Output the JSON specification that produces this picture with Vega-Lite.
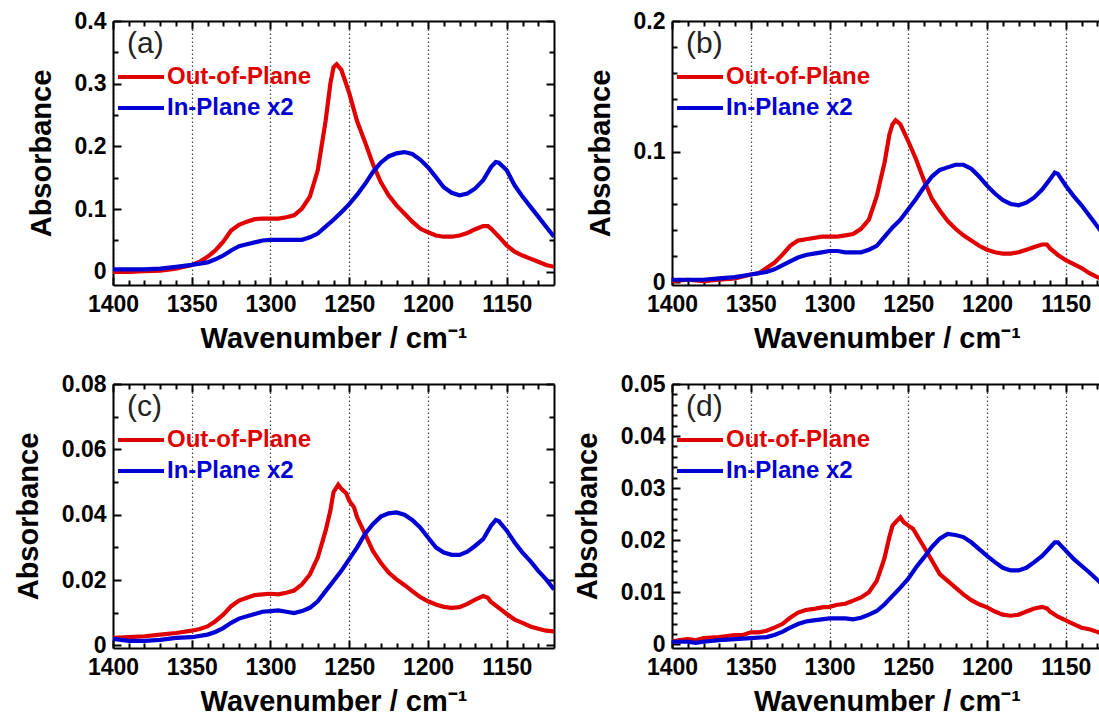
{
  "$schema": "https://vega.github.io/schema/vega-lite/v6.json",
  "padding": {"left": 14, "top": 10, "right": 0, "bottom": 0},
  "data": {"values": [
    {"p":"a","s":"Out-of-Plane","w":1400,"A":0.0},{"p":"a","s":"Out-of-Plane","w":1390,"A":0.0},{"p":"a","s":"Out-of-Plane","w":1380,"A":0.001},{"p":"a","s":"Out-of-Plane","w":1370,"A":0.002},{"p":"a","s":"Out-of-Plane","w":1360,"A":0.005},{"p":"a","s":"Out-of-Plane","w":1350,"A":0.011},{"p":"a","s":"Out-of-Plane","w":1345,"A":0.016},{"p":"a","s":"Out-of-Plane","w":1340,"A":0.024},{"p":"a","s":"Out-of-Plane","w":1335,"A":0.034},{"p":"a","s":"Out-of-Plane","w":1330,"A":0.048},{"p":"a","s":"Out-of-Plane","w":1325,"A":0.066},{"p":"a","s":"Out-of-Plane","w":1320,"A":0.075},{"p":"a","s":"Out-of-Plane","w":1315,"A":0.080},{"p":"a","s":"Out-of-Plane","w":1310,"A":0.084},{"p":"a","s":"Out-of-Plane","w":1305,"A":0.085},{"p":"a","s":"Out-of-Plane","w":1300,"A":0.085},{"p":"a","s":"Out-of-Plane","w":1295,"A":0.085},{"p":"a","s":"Out-of-Plane","w":1290,"A":0.087},{"p":"a","s":"Out-of-Plane","w":1285,"A":0.090},{"p":"a","s":"Out-of-Plane","w":1280,"A":0.101},{"p":"a","s":"Out-of-Plane","w":1275,"A":0.120},{"p":"a","s":"Out-of-Plane","w":1270,"A":0.162},{"p":"a","s":"Out-of-Plane","w":1265,"A":0.241},{"p":"a","s":"Out-of-Plane","w":1262,"A":0.300},{"p":"a","s":"Out-of-Plane","w":1260,"A":0.326},{"p":"a","s":"Out-of-Plane","w":1258,"A":0.331},{"p":"a","s":"Out-of-Plane","w":1255,"A":0.322},{"p":"a","s":"Out-of-Plane","w":1250,"A":0.285},{"p":"a","s":"Out-of-Plane","w":1245,"A":0.240},{"p":"a","s":"Out-of-Plane","w":1240,"A":0.207},{"p":"a","s":"Out-of-Plane","w":1235,"A":0.172},{"p":"a","s":"Out-of-Plane","w":1230,"A":0.143},{"p":"a","s":"Out-of-Plane","w":1225,"A":0.122},{"p":"a","s":"Out-of-Plane","w":1220,"A":0.106},{"p":"a","s":"Out-of-Plane","w":1215,"A":0.093},{"p":"a","s":"Out-of-Plane","w":1210,"A":0.080},{"p":"a","s":"Out-of-Plane","w":1205,"A":0.069},{"p":"a","s":"Out-of-Plane","w":1200,"A":0.063},{"p":"a","s":"Out-of-Plane","w":1195,"A":0.058},{"p":"a","s":"Out-of-Plane","w":1190,"A":0.056},{"p":"a","s":"Out-of-Plane","w":1185,"A":0.056},{"p":"a","s":"Out-of-Plane","w":1180,"A":0.058},{"p":"a","s":"Out-of-Plane","w":1175,"A":0.062},{"p":"a","s":"Out-of-Plane","w":1170,"A":0.068},{"p":"a","s":"Out-of-Plane","w":1165,"A":0.073},{"p":"a","s":"Out-of-Plane","w":1162,"A":0.073},{"p":"a","s":"Out-of-Plane","w":1160,"A":0.069},{"p":"a","s":"Out-of-Plane","w":1155,"A":0.056},{"p":"a","s":"Out-of-Plane","w":1150,"A":0.042},{"p":"a","s":"Out-of-Plane","w":1145,"A":0.032},{"p":"a","s":"Out-of-Plane","w":1140,"A":0.026},{"p":"a","s":"Out-of-Plane","w":1135,"A":0.021},{"p":"a","s":"Out-of-Plane","w":1130,"A":0.016},{"p":"a","s":"Out-of-Plane","w":1125,"A":0.011},{"p":"a","s":"Out-of-Plane","w":1120,"A":0.008},
    {"p":"a","s":"In-Plane x2","w":1400,"A":0.004},{"p":"a","s":"In-Plane x2","w":1390,"A":0.004},{"p":"a","s":"In-Plane x2","w":1380,"A":0.004},{"p":"a","s":"In-Plane x2","w":1370,"A":0.005},{"p":"a","s":"In-Plane x2","w":1360,"A":0.008},{"p":"a","s":"In-Plane x2","w":1350,"A":0.011},{"p":"a","s":"In-Plane x2","w":1340,"A":0.015},{"p":"a","s":"In-Plane x2","w":1335,"A":0.020},{"p":"a","s":"In-Plane x2","w":1330,"A":0.026},{"p":"a","s":"In-Plane x2","w":1325,"A":0.034},{"p":"a","s":"In-Plane x2","w":1320,"A":0.041},{"p":"a","s":"In-Plane x2","w":1315,"A":0.044},{"p":"a","s":"In-Plane x2","w":1310,"A":0.047},{"p":"a","s":"In-Plane x2","w":1305,"A":0.050},{"p":"a","s":"In-Plane x2","w":1300,"A":0.051},{"p":"a","s":"In-Plane x2","w":1295,"A":0.051},{"p":"a","s":"In-Plane x2","w":1290,"A":0.051},{"p":"a","s":"In-Plane x2","w":1285,"A":0.051},{"p":"a","s":"In-Plane x2","w":1280,"A":0.051},{"p":"a","s":"In-Plane x2","w":1275,"A":0.055},{"p":"a","s":"In-Plane x2","w":1270,"A":0.061},{"p":"a","s":"In-Plane x2","w":1265,"A":0.072},{"p":"a","s":"In-Plane x2","w":1260,"A":0.083},{"p":"a","s":"In-Plane x2","w":1255,"A":0.095},{"p":"a","s":"In-Plane x2","w":1250,"A":0.108},{"p":"a","s":"In-Plane x2","w":1245,"A":0.123},{"p":"a","s":"In-Plane x2","w":1240,"A":0.140},{"p":"a","s":"In-Plane x2","w":1235,"A":0.159},{"p":"a","s":"In-Plane x2","w":1230,"A":0.174},{"p":"a","s":"In-Plane x2","w":1225,"A":0.184},{"p":"a","s":"In-Plane x2","w":1220,"A":0.189},{"p":"a","s":"In-Plane x2","w":1215,"A":0.191},{"p":"a","s":"In-Plane x2","w":1210,"A":0.188},{"p":"a","s":"In-Plane x2","w":1205,"A":0.179},{"p":"a","s":"In-Plane x2","w":1200,"A":0.167},{"p":"a","s":"In-Plane x2","w":1195,"A":0.151},{"p":"a","s":"In-Plane x2","w":1190,"A":0.135},{"p":"a","s":"In-Plane x2","w":1185,"A":0.126},{"p":"a","s":"In-Plane x2","w":1180,"A":0.122},{"p":"a","s":"In-Plane x2","w":1175,"A":0.125},{"p":"a","s":"In-Plane x2","w":1170,"A":0.133},{"p":"a","s":"In-Plane x2","w":1165,"A":0.146},{"p":"a","s":"In-Plane x2","w":1160,"A":0.167},{"p":"a","s":"In-Plane x2","w":1157,"A":0.175},{"p":"a","s":"In-Plane x2","w":1155,"A":0.174},{"p":"a","s":"In-Plane x2","w":1150,"A":0.162},{"p":"a","s":"In-Plane x2","w":1145,"A":0.138},{"p":"a","s":"In-Plane x2","w":1140,"A":0.120},{"p":"a","s":"In-Plane x2","w":1135,"A":0.104},{"p":"a","s":"In-Plane x2","w":1130,"A":0.088},{"p":"a","s":"In-Plane x2","w":1125,"A":0.072},{"p":"a","s":"In-Plane x2","w":1120,"A":0.056},
    {"p":"b","s":"Out-of-Plane","w":1400,"A":0.001},{"p":"b","s":"Out-of-Plane","w":1390,"A":0.002},{"p":"b","s":"Out-of-Plane","w":1380,"A":0.001},{"p":"b","s":"Out-of-Plane","w":1370,"A":0.002},{"p":"b","s":"Out-of-Plane","w":1360,"A":0.003},{"p":"b","s":"Out-of-Plane","w":1350,"A":0.006},{"p":"b","s":"Out-of-Plane","w":1345,"A":0.007},{"p":"b","s":"Out-of-Plane","w":1340,"A":0.011},{"p":"b","s":"Out-of-Plane","w":1335,"A":0.015},{"p":"b","s":"Out-of-Plane","w":1330,"A":0.021},{"p":"b","s":"Out-of-Plane","w":1325,"A":0.028},{"p":"b","s":"Out-of-Plane","w":1320,"A":0.032},{"p":"b","s":"Out-of-Plane","w":1315,"A":0.033},{"p":"b","s":"Out-of-Plane","w":1310,"A":0.034},{"p":"b","s":"Out-of-Plane","w":1305,"A":0.035},{"p":"b","s":"Out-of-Plane","w":1300,"A":0.035},{"p":"b","s":"Out-of-Plane","w":1295,"A":0.035},{"p":"b","s":"Out-of-Plane","w":1290,"A":0.036},{"p":"b","s":"Out-of-Plane","w":1285,"A":0.037},{"p":"b","s":"Out-of-Plane","w":1280,"A":0.041},{"p":"b","s":"Out-of-Plane","w":1275,"A":0.048},{"p":"b","s":"Out-of-Plane","w":1270,"A":0.066},{"p":"b","s":"Out-of-Plane","w":1265,"A":0.092},{"p":"b","s":"Out-of-Plane","w":1262,"A":0.113},{"p":"b","s":"Out-of-Plane","w":1260,"A":0.121},{"p":"b","s":"Out-of-Plane","w":1258,"A":0.124},{"p":"b","s":"Out-of-Plane","w":1255,"A":0.121},{"p":"b","s":"Out-of-Plane","w":1250,"A":0.108},{"p":"b","s":"Out-of-Plane","w":1245,"A":0.094},{"p":"b","s":"Out-of-Plane","w":1240,"A":0.078},{"p":"b","s":"Out-of-Plane","w":1235,"A":0.064},{"p":"b","s":"Out-of-Plane","w":1230,"A":0.055},{"p":"b","s":"Out-of-Plane","w":1225,"A":0.047},{"p":"b","s":"Out-of-Plane","w":1220,"A":0.041},{"p":"b","s":"Out-of-Plane","w":1215,"A":0.036},{"p":"b","s":"Out-of-Plane","w":1210,"A":0.032},{"p":"b","s":"Out-of-Plane","w":1205,"A":0.028},{"p":"b","s":"Out-of-Plane","w":1200,"A":0.025},{"p":"b","s":"Out-of-Plane","w":1195,"A":0.023},{"p":"b","s":"Out-of-Plane","w":1190,"A":0.022},{"p":"b","s":"Out-of-Plane","w":1185,"A":0.022},{"p":"b","s":"Out-of-Plane","w":1180,"A":0.023},{"p":"b","s":"Out-of-Plane","w":1175,"A":0.025},{"p":"b","s":"Out-of-Plane","w":1170,"A":0.027},{"p":"b","s":"Out-of-Plane","w":1165,"A":0.029},{"p":"b","s":"Out-of-Plane","w":1162,"A":0.029},{"p":"b","s":"Out-of-Plane","w":1160,"A":0.026},{"p":"b","s":"Out-of-Plane","w":1155,"A":0.021},{"p":"b","s":"Out-of-Plane","w":1150,"A":0.017},{"p":"b","s":"Out-of-Plane","w":1145,"A":0.014},{"p":"b","s":"Out-of-Plane","w":1140,"A":0.011},{"p":"b","s":"Out-of-Plane","w":1135,"A":0.007},{"p":"b","s":"Out-of-Plane","w":1130,"A":0.004},{"p":"b","s":"Out-of-Plane","w":1125,"A":0.002},{"p":"b","s":"Out-of-Plane","w":1120,"A":0.001},
    {"p":"b","s":"In-Plane x2","w":1400,"A":0.002},{"p":"b","s":"In-Plane x2","w":1390,"A":0.002},{"p":"b","s":"In-Plane x2","w":1380,"A":0.002},{"p":"b","s":"In-Plane x2","w":1370,"A":0.003},{"p":"b","s":"In-Plane x2","w":1360,"A":0.004},{"p":"b","s":"In-Plane x2","w":1350,"A":0.006},{"p":"b","s":"In-Plane x2","w":1340,"A":0.008},{"p":"b","s":"In-Plane x2","w":1335,"A":0.010},{"p":"b","s":"In-Plane x2","w":1330,"A":0.013},{"p":"b","s":"In-Plane x2","w":1325,"A":0.016},{"p":"b","s":"In-Plane x2","w":1320,"A":0.019},{"p":"b","s":"In-Plane x2","w":1315,"A":0.021},{"p":"b","s":"In-Plane x2","w":1310,"A":0.022},{"p":"b","s":"In-Plane x2","w":1305,"A":0.023},{"p":"b","s":"In-Plane x2","w":1300,"A":0.024},{"p":"b","s":"In-Plane x2","w":1295,"A":0.024},{"p":"b","s":"In-Plane x2","w":1290,"A":0.023},{"p":"b","s":"In-Plane x2","w":1285,"A":0.023},{"p":"b","s":"In-Plane x2","w":1280,"A":0.023},{"p":"b","s":"In-Plane x2","w":1275,"A":0.025},{"p":"b","s":"In-Plane x2","w":1270,"A":0.028},{"p":"b","s":"In-Plane x2","w":1265,"A":0.035},{"p":"b","s":"In-Plane x2","w":1260,"A":0.042},{"p":"b","s":"In-Plane x2","w":1255,"A":0.048},{"p":"b","s":"In-Plane x2","w":1250,"A":0.056},{"p":"b","s":"In-Plane x2","w":1245,"A":0.064},{"p":"b","s":"In-Plane x2","w":1240,"A":0.073},{"p":"b","s":"In-Plane x2","w":1235,"A":0.081},{"p":"b","s":"In-Plane x2","w":1230,"A":0.086},{"p":"b","s":"In-Plane x2","w":1225,"A":0.088},{"p":"b","s":"In-Plane x2","w":1220,"A":0.090},{"p":"b","s":"In-Plane x2","w":1215,"A":0.090},{"p":"b","s":"In-Plane x2","w":1210,"A":0.087},{"p":"b","s":"In-Plane x2","w":1205,"A":0.081},{"p":"b","s":"In-Plane x2","w":1200,"A":0.074},{"p":"b","s":"In-Plane x2","w":1195,"A":0.068},{"p":"b","s":"In-Plane x2","w":1190,"A":0.063},{"p":"b","s":"In-Plane x2","w":1185,"A":0.060},{"p":"b","s":"In-Plane x2","w":1180,"A":0.059},{"p":"b","s":"In-Plane x2","w":1175,"A":0.061},{"p":"b","s":"In-Plane x2","w":1170,"A":0.065},{"p":"b","s":"In-Plane x2","w":1165,"A":0.071},{"p":"b","s":"In-Plane x2","w":1160,"A":0.079},{"p":"b","s":"In-Plane x2","w":1157,"A":0.084},{"p":"b","s":"In-Plane x2","w":1155,"A":0.083},{"p":"b","s":"In-Plane x2","w":1150,"A":0.074},{"p":"b","s":"In-Plane x2","w":1145,"A":0.066},{"p":"b","s":"In-Plane x2","w":1140,"A":0.059},{"p":"b","s":"In-Plane x2","w":1135,"A":0.051},{"p":"b","s":"In-Plane x2","w":1130,"A":0.043},{"p":"b","s":"In-Plane x2","w":1125,"A":0.035},{"p":"b","s":"In-Plane x2","w":1120,"A":0.028},
    {"p":"c","s":"Out-of-Plane","w":1400,"A":0.0023},{"p":"c","s":"Out-of-Plane","w":1390,"A":0.0025},{"p":"c","s":"Out-of-Plane","w":1380,"A":0.0028},{"p":"c","s":"Out-of-Plane","w":1370,"A":0.0033},{"p":"c","s":"Out-of-Plane","w":1360,"A":0.0038},{"p":"c","s":"Out-of-Plane","w":1350,"A":0.0045},{"p":"c","s":"Out-of-Plane","w":1345,"A":0.005},{"p":"c","s":"Out-of-Plane","w":1340,"A":0.0058},{"p":"c","s":"Out-of-Plane","w":1335,"A":0.0074},{"p":"c","s":"Out-of-Plane","w":1330,"A":0.0094},{"p":"c","s":"Out-of-Plane","w":1325,"A":0.012},{"p":"c","s":"Out-of-Plane","w":1320,"A":0.0137},{"p":"c","s":"Out-of-Plane","w":1315,"A":0.0146},{"p":"c","s":"Out-of-Plane","w":1310,"A":0.0154},{"p":"c","s":"Out-of-Plane","w":1305,"A":0.0156},{"p":"c","s":"Out-of-Plane","w":1300,"A":0.0158},{"p":"c","s":"Out-of-Plane","w":1295,"A":0.0156},{"p":"c","s":"Out-of-Plane","w":1290,"A":0.0161},{"p":"c","s":"Out-of-Plane","w":1285,"A":0.0168},{"p":"c","s":"Out-of-Plane","w":1280,"A":0.0187},{"p":"c","s":"Out-of-Plane","w":1275,"A":0.0217},{"p":"c","s":"Out-of-Plane","w":1270,"A":0.0269},{"p":"c","s":"Out-of-Plane","w":1265,"A":0.0351},{"p":"c","s":"Out-of-Plane","w":1262,"A":0.0412},{"p":"c","s":"Out-of-Plane","w":1260,"A":0.0469},{"p":"c","s":"Out-of-Plane","w":1257,"A":0.0492},{"p":"c","s":"Out-of-Plane","w":1255,"A":0.0479},{"p":"c","s":"Out-of-Plane","w":1252,"A":0.0466},{"p":"c","s":"Out-of-Plane","w":1250,"A":0.0443},{"p":"c","s":"Out-of-Plane","w":1247,"A":0.0423},{"p":"c","s":"Out-of-Plane","w":1245,"A":0.0392},{"p":"c","s":"Out-of-Plane","w":1240,"A":0.0341},{"p":"c","s":"Out-of-Plane","w":1235,"A":0.0289},{"p":"c","s":"Out-of-Plane","w":1230,"A":0.0253},{"p":"c","s":"Out-of-Plane","w":1225,"A":0.0223},{"p":"c","s":"Out-of-Plane","w":1220,"A":0.0202},{"p":"c","s":"Out-of-Plane","w":1215,"A":0.0185},{"p":"c","s":"Out-of-Plane","w":1210,"A":0.0166},{"p":"c","s":"Out-of-Plane","w":1205,"A":0.0148},{"p":"c","s":"Out-of-Plane","w":1200,"A":0.0135},{"p":"c","s":"Out-of-Plane","w":1195,"A":0.0125},{"p":"c","s":"Out-of-Plane","w":1190,"A":0.0118},{"p":"c","s":"Out-of-Plane","w":1185,"A":0.0115},{"p":"c","s":"Out-of-Plane","w":1180,"A":0.0117},{"p":"c","s":"Out-of-Plane","w":1175,"A":0.0127},{"p":"c","s":"Out-of-Plane","w":1170,"A":0.014},{"p":"c","s":"Out-of-Plane","w":1165,"A":0.0151},{"p":"c","s":"Out-of-Plane","w":1162,"A":0.0146},{"p":"c","s":"Out-of-Plane","w":1160,"A":0.0133},{"p":"c","s":"Out-of-Plane","w":1155,"A":0.0115},{"p":"c","s":"Out-of-Plane","w":1150,"A":0.0096},{"p":"c","s":"Out-of-Plane","w":1145,"A":0.0079},{"p":"c","s":"Out-of-Plane","w":1140,"A":0.0069},{"p":"c","s":"Out-of-Plane","w":1135,"A":0.0058},{"p":"c","s":"Out-of-Plane","w":1130,"A":0.0051},{"p":"c","s":"Out-of-Plane","w":1125,"A":0.0045},{"p":"c","s":"Out-of-Plane","w":1120,"A":0.0043},
    {"p":"c","s":"In-Plane x2","w":1400,"A":0.002},{"p":"c","s":"In-Plane x2","w":1390,"A":0.0014},{"p":"c","s":"In-Plane x2","w":1380,"A":0.0014},{"p":"c","s":"In-Plane x2","w":1370,"A":0.0017},{"p":"c","s":"In-Plane x2","w":1360,"A":0.0023},{"p":"c","s":"In-Plane x2","w":1350,"A":0.0025},{"p":"c","s":"In-Plane x2","w":1340,"A":0.0033},{"p":"c","s":"In-Plane x2","w":1335,"A":0.0041},{"p":"c","s":"In-Plane x2","w":1330,"A":0.0053},{"p":"c","s":"In-Plane x2","w":1325,"A":0.0069},{"p":"c","s":"In-Plane x2","w":1320,"A":0.0082},{"p":"c","s":"In-Plane x2","w":1315,"A":0.0089},{"p":"c","s":"In-Plane x2","w":1310,"A":0.0096},{"p":"c","s":"In-Plane x2","w":1305,"A":0.0103},{"p":"c","s":"In-Plane x2","w":1300,"A":0.0105},{"p":"c","s":"In-Plane x2","w":1295,"A":0.0107},{"p":"c","s":"In-Plane x2","w":1290,"A":0.0103},{"p":"c","s":"In-Plane x2","w":1285,"A":0.0099},{"p":"c","s":"In-Plane x2","w":1280,"A":0.0105},{"p":"c","s":"In-Plane x2","w":1275,"A":0.0115},{"p":"c","s":"In-Plane x2","w":1270,"A":0.0135},{"p":"c","s":"In-Plane x2","w":1265,"A":0.0166},{"p":"c","s":"In-Plane x2","w":1260,"A":0.0197},{"p":"c","s":"In-Plane x2","w":1255,"A":0.0228},{"p":"c","s":"In-Plane x2","w":1250,"A":0.0264},{"p":"c","s":"In-Plane x2","w":1245,"A":0.030},{"p":"c","s":"In-Plane x2","w":1240,"A":0.0341},{"p":"c","s":"In-Plane x2","w":1235,"A":0.0371},{"p":"c","s":"In-Plane x2","w":1230,"A":0.0394},{"p":"c","s":"In-Plane x2","w":1225,"A":0.0404},{"p":"c","s":"In-Plane x2","w":1220,"A":0.0407},{"p":"c","s":"In-Plane x2","w":1215,"A":0.040},{"p":"c","s":"In-Plane x2","w":1210,"A":0.0384},{"p":"c","s":"In-Plane x2","w":1205,"A":0.0361},{"p":"c","s":"In-Plane x2","w":1200,"A":0.033},{"p":"c","s":"In-Plane x2","w":1195,"A":0.030},{"p":"c","s":"In-Plane x2","w":1190,"A":0.0284},{"p":"c","s":"In-Plane x2","w":1185,"A":0.0277},{"p":"c","s":"In-Plane x2","w":1180,"A":0.0277},{"p":"c","s":"In-Plane x2","w":1175,"A":0.0287},{"p":"c","s":"In-Plane x2","w":1170,"A":0.0305},{"p":"c","s":"In-Plane x2","w":1165,"A":0.0325},{"p":"c","s":"In-Plane x2","w":1160,"A":0.0366},{"p":"c","s":"In-Plane x2","w":1157,"A":0.0384},{"p":"c","s":"In-Plane x2","w":1155,"A":0.038},{"p":"c","s":"In-Plane x2","w":1150,"A":0.0351},{"p":"c","s":"In-Plane x2","w":1145,"A":0.0315},{"p":"c","s":"In-Plane x2","w":1140,"A":0.0284},{"p":"c","s":"In-Plane x2","w":1135,"A":0.0258},{"p":"c","s":"In-Plane x2","w":1130,"A":0.0228},{"p":"c","s":"In-Plane x2","w":1125,"A":0.0202},{"p":"c","s":"In-Plane x2","w":1120,"A":0.0171},
    {"p":"d","s":"Out-of-Plane","w":1400,"A":0.0005},{"p":"d","s":"Out-of-Plane","w":1395,"A":0.0008},{"p":"d","s":"Out-of-Plane","w":1390,"A":0.001},{"p":"d","s":"Out-of-Plane","w":1385,"A":0.0008},{"p":"d","s":"Out-of-Plane","w":1380,"A":0.0012},{"p":"d","s":"Out-of-Plane","w":1375,"A":0.0013},{"p":"d","s":"Out-of-Plane","w":1370,"A":0.0014},{"p":"d","s":"Out-of-Plane","w":1365,"A":0.0016},{"p":"d","s":"Out-of-Plane","w":1360,"A":0.0018},{"p":"d","s":"Out-of-Plane","w":1355,"A":0.0018},{"p":"d","s":"Out-of-Plane","w":1350,"A":0.0023},{"p":"d","s":"Out-of-Plane","w":1345,"A":0.0023},{"p":"d","s":"Out-of-Plane","w":1340,"A":0.0026},{"p":"d","s":"Out-of-Plane","w":1335,"A":0.0032},{"p":"d","s":"Out-of-Plane","w":1330,"A":0.0039},{"p":"d","s":"Out-of-Plane","w":1325,"A":0.0051},{"p":"d","s":"Out-of-Plane","w":1320,"A":0.0061},{"p":"d","s":"Out-of-Plane","w":1315,"A":0.0066},{"p":"d","s":"Out-of-Plane","w":1310,"A":0.0068},{"p":"d","s":"Out-of-Plane","w":1305,"A":0.0071},{"p":"d","s":"Out-of-Plane","w":1300,"A":0.0072},{"p":"d","s":"Out-of-Plane","w":1295,"A":0.0076},{"p":"d","s":"Out-of-Plane","w":1290,"A":0.0078},{"p":"d","s":"Out-of-Plane","w":1285,"A":0.0084},{"p":"d","s":"Out-of-Plane","w":1280,"A":0.009},{"p":"d","s":"Out-of-Plane","w":1275,"A":0.010},{"p":"d","s":"Out-of-Plane","w":1270,"A":0.0122},{"p":"d","s":"Out-of-Plane","w":1267,"A":0.0148},{"p":"d","s":"Out-of-Plane","w":1265,"A":0.0167},{"p":"d","s":"Out-of-Plane","w":1262,"A":0.0206},{"p":"d","s":"Out-of-Plane","w":1260,"A":0.0228},{"p":"d","s":"Out-of-Plane","w":1257,"A":0.0238},{"p":"d","s":"Out-of-Plane","w":1255,"A":0.0244},{"p":"d","s":"Out-of-Plane","w":1253,"A":0.0235},{"p":"d","s":"Out-of-Plane","w":1250,"A":0.0228},{"p":"d","s":"Out-of-Plane","w":1247,"A":0.0222},{"p":"d","s":"Out-of-Plane","w":1245,"A":0.0212},{"p":"d","s":"Out-of-Plane","w":1240,"A":0.0187},{"p":"d","s":"Out-of-Plane","w":1235,"A":0.0161},{"p":"d","s":"Out-of-Plane","w":1230,"A":0.0135},{"p":"d","s":"Out-of-Plane","w":1225,"A":0.0122},{"p":"d","s":"Out-of-Plane","w":1220,"A":0.0109},{"p":"d","s":"Out-of-Plane","w":1215,"A":0.0096},{"p":"d","s":"Out-of-Plane","w":1210,"A":0.0085},{"p":"d","s":"Out-of-Plane","w":1205,"A":0.0077},{"p":"d","s":"Out-of-Plane","w":1200,"A":0.0071},{"p":"d","s":"Out-of-Plane","w":1195,"A":0.0063},{"p":"d","s":"Out-of-Plane","w":1190,"A":0.0057},{"p":"d","s":"Out-of-Plane","w":1185,"A":0.0055},{"p":"d","s":"Out-of-Plane","w":1180,"A":0.0057},{"p":"d","s":"Out-of-Plane","w":1175,"A":0.0063},{"p":"d","s":"Out-of-Plane","w":1170,"A":0.0069},{"p":"d","s":"Out-of-Plane","w":1165,"A":0.0072},{"p":"d","s":"Out-of-Plane","w":1162,"A":0.0069},{"p":"d","s":"Out-of-Plane","w":1160,"A":0.0063},{"p":"d","s":"Out-of-Plane","w":1155,"A":0.0053},{"p":"d","s":"Out-of-Plane","w":1150,"A":0.0046},{"p":"d","s":"Out-of-Plane","w":1145,"A":0.0039},{"p":"d","s":"Out-of-Plane","w":1140,"A":0.0032},{"p":"d","s":"Out-of-Plane","w":1135,"A":0.0029},{"p":"d","s":"Out-of-Plane","w":1130,"A":0.0024},{"p":"d","s":"Out-of-Plane","w":1125,"A":0.0018},{"p":"d","s":"Out-of-Plane","w":1120,"A":0.0013},
    {"p":"d","s":"In-Plane x2","w":1400,"A":0.0005},{"p":"d","s":"In-Plane x2","w":1390,"A":0.0005},{"p":"d","s":"In-Plane x2","w":1385,"A":0.0003},{"p":"d","s":"In-Plane x2","w":1380,"A":0.0005},{"p":"d","s":"In-Plane x2","w":1370,"A":0.0008},{"p":"d","s":"In-Plane x2","w":1360,"A":0.001},{"p":"d","s":"In-Plane x2","w":1350,"A":0.0012},{"p":"d","s":"In-Plane x2","w":1340,"A":0.0014},{"p":"d","s":"In-Plane x2","w":1335,"A":0.0018},{"p":"d","s":"In-Plane x2","w":1330,"A":0.0024},{"p":"d","s":"In-Plane x2","w":1325,"A":0.0032},{"p":"d","s":"In-Plane x2","w":1320,"A":0.0039},{"p":"d","s":"In-Plane x2","w":1315,"A":0.0044},{"p":"d","s":"In-Plane x2","w":1310,"A":0.0046},{"p":"d","s":"In-Plane x2","w":1305,"A":0.0048},{"p":"d","s":"In-Plane x2","w":1300,"A":0.005},{"p":"d","s":"In-Plane x2","w":1295,"A":0.005},{"p":"d","s":"In-Plane x2","w":1290,"A":0.005},{"p":"d","s":"In-Plane x2","w":1285,"A":0.0048},{"p":"d","s":"In-Plane x2","w":1280,"A":0.0051},{"p":"d","s":"In-Plane x2","w":1275,"A":0.0057},{"p":"d","s":"In-Plane x2","w":1270,"A":0.0064},{"p":"d","s":"In-Plane x2","w":1265,"A":0.0077},{"p":"d","s":"In-Plane x2","w":1260,"A":0.0093},{"p":"d","s":"In-Plane x2","w":1255,"A":0.0109},{"p":"d","s":"In-Plane x2","w":1250,"A":0.0126},{"p":"d","s":"In-Plane x2","w":1245,"A":0.0148},{"p":"d","s":"In-Plane x2","w":1240,"A":0.0167},{"p":"d","s":"In-Plane x2","w":1235,"A":0.0187},{"p":"d","s":"In-Plane x2","w":1230,"A":0.0203},{"p":"d","s":"In-Plane x2","w":1225,"A":0.0212},{"p":"d","s":"In-Plane x2","w":1220,"A":0.021},{"p":"d","s":"In-Plane x2","w":1215,"A":0.0206},{"p":"d","s":"In-Plane x2","w":1210,"A":0.0196},{"p":"d","s":"In-Plane x2","w":1205,"A":0.0183},{"p":"d","s":"In-Plane x2","w":1200,"A":0.017},{"p":"d","s":"In-Plane x2","w":1195,"A":0.0158},{"p":"d","s":"In-Plane x2","w":1190,"A":0.0147},{"p":"d","s":"In-Plane x2","w":1185,"A":0.0142},{"p":"d","s":"In-Plane x2","w":1180,"A":0.0142},{"p":"d","s":"In-Plane x2","w":1175,"A":0.0147},{"p":"d","s":"In-Plane x2","w":1170,"A":0.0158},{"p":"d","s":"In-Plane x2","w":1165,"A":0.017},{"p":"d","s":"In-Plane x2","w":1160,"A":0.0186},{"p":"d","s":"In-Plane x2","w":1157,"A":0.0196},{"p":"d","s":"In-Plane x2","w":1155,"A":0.0196},{"p":"d","s":"In-Plane x2","w":1150,"A":0.018},{"p":"d","s":"In-Plane x2","w":1145,"A":0.0164},{"p":"d","s":"In-Plane x2","w":1140,"A":0.0151},{"p":"d","s":"In-Plane x2","w":1135,"A":0.0138},{"p":"d","s":"In-Plane x2","w":1130,"A":0.0124},{"p":"d","s":"In-Plane x2","w":1125,"A":0.011},{"p":"d","s":"In-Plane x2","w":1120,"A":0.0098}
  ]},
  "columns": 2,
  "bounds": "flush",
  "spacing": {"row": 99, "column": 118},
  "resolve": {"scale": {"color": "independent"}, "legend": {"color": "independent"}},
  "concat": [
    {
      "width": 441, "height": 264,
      "transform": [{"filter": "datum.p == 'a'"}],
      "layer": [
        {"mark": {"type": "line", "strokeWidth": 4.2, "clip": true},
         "encoding": {
           "x": {"field": "w", "type": "quantitative", "scale": {"domain": [1120, 1400], "reverse": true, "nice": false, "zero": false},
                 "axis": {"orient": "bottom", "values": [1400, 1390, 1380, 1370, 1360, 1350, 1340, 1330, 1320, 1310, 1300, 1290, 1280, 1270, 1260, 1250, 1240, 1230, 1220, 1210, 1200, 1190, 1180, 1170, 1160, 1150, 1140, 1130],
                          "labelExpr": "datum.value % 50 === 0 ? format(datum.value, 'd') : ''",
                          "tickSize": {"condition": {"test": "datum.value % 50 === 0", "value": -8}, "value": -5},
                          "gridOpacity": {"condition": {"test": "datum.value % 50 === 0", "value": 1}, "value": 0},
                          "grid": true, "domain": true, "labelPadding": 16, "title": "Wavenumber / cm⁻¹", "titlePadding": 5}},
           "y": {"field": "A", "type": "quantitative", "scale": {"domain": [-0.021, 0.4], "nice": false, "zero": false},
                 "axis": {"orient": "left", "values": [0, 0.05, 0.1, 0.15, 0.2, 0.25, 0.3, 0.35, 0.4],
                          "labelExpr": "abs(datum.value * 10 - round(datum.value * 10)) < 0.001 ? format(datum.value, '~g') : ''",
                          "tickSize": {"condition": {"test": "abs(datum.value * 10 - round(datum.value * 10)) < 0.001", "value": -8}, "value": -5},
                          "grid": false, "domain": true, "labelPadding": 15, "title": "Absorbance", "titlePadding": 18}},
           "color": {"field": "s", "type": "nominal", "scale": {"domain": ["Out-of-Plane", "In-Plane x2"], "range": ["#e00000", "#0000d4"]},
                     "legend": {"title": "\u2002(a)", "orient": "none", "legendX": 14, "legendY": 8, "encode": {"labels": {"update": {"fill": {"signal": "datum.value === 'Out-of-Plane' ? '#e00000' : '#0000d4'"}}}}}}
         }},
        {"mark": {"type": "line", "strokeOpacity": 0},
         "encoding": {
           "x": {"field": "w", "type": "quantitative", "scale": {"domain": [1120, 1400], "reverse": true, "nice": false, "zero": false},
                 "axis": {"orient": "top", "values": [1400, 1390, 1380, 1370, 1360, 1350, 1340, 1330, 1320, 1310, 1300, 1290, 1280, 1270, 1260, 1250, 1240, 1230, 1220, 1210, 1200, 1190, 1180, 1170, 1160, 1150, 1140, 1130], "labels": false, "domain": true, "grid": false, "title": null,
                          "tickSize": {"condition": {"test": "datum.value % 50 === 0", "value": -8}, "value": -5}}},
           "y": {"field": "A", "type": "quantitative", "scale": {"domain": [-0.021, 0.4], "nice": false, "zero": false},
                 "axis": {"orient": "right", "values": [0, 0.05, 0.1, 0.15, 0.2, 0.25, 0.3, 0.35, 0.4], "labels": false, "domain": true, "grid": false, "title": null,
                          "tickSize": {"condition": {"test": "abs(datum.value * 10 - round(datum.value * 10)) < 0.001", "value": -8}, "value": -5}}}
         }}
      ],
      "resolve": {"axis": {"x": "independent", "y": "independent"}}
    },
    {
      "width": 430, "height": 264,
      "transform": [{"filter": "datum.p == 'b'"}],
      "layer": [
        {"mark": {"type": "line", "strokeWidth": 4.2, "clip": true},
         "encoding": {
           "x": {"field": "w", "type": "quantitative", "scale": {"domain": [1127, 1400], "reverse": true, "nice": false, "zero": false},
                 "axis": {"orient": "bottom", "values": [1400, 1390, 1380, 1370, 1360, 1350, 1340, 1330, 1320, 1310, 1300, 1290, 1280, 1270, 1260, 1250, 1240, 1230, 1220, 1210, 1200, 1190, 1180, 1170, 1160, 1150, 1140, 1130],
                          "labelExpr": "datum.value % 50 === 0 ? format(datum.value, 'd') : ''",
                          "tickSize": {"condition": {"test": "datum.value % 50 === 0", "value": -8}, "value": -5},
                          "gridOpacity": {"condition": {"test": "datum.value % 50 === 0", "value": 1}, "value": 0},
                          "grid": true, "domain": true, "labelPadding": 16, "title": "Wavenumber / cm⁻¹", "titlePadding": 5}},
           "y": {"field": "A", "type": "quantitative", "scale": {"domain": [-0.002, 0.2], "nice": false, "zero": false},
                 "axis": {"orient": "left", "values": [0, 0.02, 0.04, 0.06, 0.08, 0.1, 0.12, 0.14, 0.16, 0.18, 0.2],
                          "labelExpr": "abs(datum.value * 10 - round(datum.value * 10)) < 0.001 ? format(datum.value, '~g') : ''",
                          "tickSize": {"condition": {"test": "abs(datum.value * 10 - round(datum.value * 10)) < 0.001", "value": -8}, "value": -5},
                          "grid": false, "domain": true, "labelPadding": 15, "title": "Absorbance", "titlePadding": 18}},
           "color": {"field": "s", "type": "nominal", "scale": {"domain": ["Out-of-Plane", "In-Plane x2"], "range": ["#e00000", "#0000d4"]},
                     "legend": {"title": "\u2002(b)", "orient": "none", "legendX": 14, "legendY": 8, "encode": {"labels": {"update": {"fill": {"signal": "datum.value === 'Out-of-Plane' ? '#e00000' : '#0000d4'"}}}}}}
         }},
        {"mark": {"type": "line", "strokeOpacity": 0},
         "encoding": {
           "x": {"field": "w", "type": "quantitative", "scale": {"domain": [1127, 1400], "reverse": true, "nice": false, "zero": false},
                 "axis": {"orient": "top", "values": [1400, 1390, 1380, 1370, 1360, 1350, 1340, 1330, 1320, 1310, 1300, 1290, 1280, 1270, 1260, 1250, 1240, 1230, 1220, 1210, 1200, 1190, 1180, 1170, 1160, 1150, 1140, 1130], "labels": false, "domain": true, "grid": false, "title": null,
                          "tickSize": {"condition": {"test": "datum.value % 50 === 0", "value": -8}, "value": -5}}},
           "y": {"field": "A", "type": "quantitative", "scale": {"domain": [-0.002, 0.2], "nice": false, "zero": false}, "axis": null}
         }}
      ],
      "resolve": {"axis": {"x": "independent", "y": "independent"}}
    },
    {
      "width": 441, "height": 264,
      "transform": [{"filter": "datum.p == 'c'"}],
      "layer": [
        {"mark": {"type": "line", "strokeWidth": 4.2, "clip": true},
         "encoding": {
           "x": {"field": "w", "type": "quantitative", "scale": {"domain": [1120, 1400], "reverse": true, "nice": false, "zero": false},
                 "axis": {"orient": "bottom", "values": [1400, 1390, 1380, 1370, 1360, 1350, 1340, 1330, 1320, 1310, 1300, 1290, 1280, 1270, 1260, 1250, 1240, 1230, 1220, 1210, 1200, 1190, 1180, 1170, 1160, 1150, 1140, 1130],
                          "labelExpr": "datum.value % 50 === 0 ? format(datum.value, 'd') : ''",
                          "tickSize": {"condition": {"test": "datum.value % 50 === 0", "value": -8}, "value": -5},
                          "gridOpacity": {"condition": {"test": "datum.value % 50 === 0", "value": 1}, "value": 0},
                          "grid": true, "domain": true, "labelPadding": 16, "title": "Wavenumber / cm⁻¹", "titlePadding": 5}},
           "y": {"field": "A", "type": "quantitative", "scale": {"domain": [-0.0008, 0.08], "nice": false, "zero": false},
                 "axis": {"orient": "left", "values": [0, 0.01, 0.02, 0.03, 0.04, 0.05, 0.06, 0.07, 0.08],
                          "labelExpr": "abs(datum.value * 50 - round(datum.value * 50)) < 0.001 ? format(datum.value, '~g') : ''",
                          "tickSize": {"condition": {"test": "abs(datum.value * 50 - round(datum.value * 50)) < 0.001", "value": -8}, "value": -5},
                          "grid": false, "domain": true, "labelPadding": 15, "title": "Absorbance", "titlePadding": 18}},
           "color": {"field": "s", "type": "nominal", "scale": {"domain": ["Out-of-Plane", "In-Plane x2"], "range": ["#e00000", "#0000d4"]},
                     "legend": {"title": "\u2002(c)", "orient": "none", "legendX": 14, "legendY": 8, "encode": {"labels": {"update": {"fill": {"signal": "datum.value === 'Out-of-Plane' ? '#e00000' : '#0000d4'"}}}}}}
         }},
        {"mark": {"type": "line", "strokeOpacity": 0},
         "encoding": {
           "x": {"field": "w", "type": "quantitative", "scale": {"domain": [1120, 1400], "reverse": true, "nice": false, "zero": false},
                 "axis": {"orient": "top", "values": [1400, 1390, 1380, 1370, 1360, 1350, 1340, 1330, 1320, 1310, 1300, 1290, 1280, 1270, 1260, 1250, 1240, 1230, 1220, 1210, 1200, 1190, 1180, 1170, 1160, 1150, 1140, 1130], "labels": false, "domain": true, "grid": false, "title": null,
                          "tickSize": {"condition": {"test": "datum.value % 50 === 0", "value": -8}, "value": -5}}},
           "y": {"field": "A", "type": "quantitative", "scale": {"domain": [-0.0008, 0.08], "nice": false, "zero": false},
                 "axis": {"orient": "right", "values": [0, 0.01, 0.02, 0.03, 0.04, 0.05, 0.06, 0.07, 0.08], "labels": false, "domain": true, "grid": false, "title": null,
                          "tickSize": {"condition": {"test": "abs(datum.value * 50 - round(datum.value * 50)) < 0.001", "value": -8}, "value": -5}}}
         }}
      ],
      "resolve": {"axis": {"x": "independent", "y": "independent"}}
    },
    {
      "width": 430, "height": 264,
      "transform": [{"filter": "datum.p == 'd'"}],
      "layer": [
        {"mark": {"type": "line", "strokeWidth": 4.2, "clip": true},
         "encoding": {
           "x": {"field": "w", "type": "quantitative", "scale": {"domain": [1127, 1400], "reverse": true, "nice": false, "zero": false},
                 "axis": {"orient": "bottom", "values": [1400, 1390, 1380, 1370, 1360, 1350, 1340, 1330, 1320, 1310, 1300, 1290, 1280, 1270, 1260, 1250, 1240, 1230, 1220, 1210, 1200, 1190, 1180, 1170, 1160, 1150, 1140, 1130],
                          "labelExpr": "datum.value % 50 === 0 ? format(datum.value, 'd') : ''",
                          "tickSize": {"condition": {"test": "datum.value % 50 === 0", "value": -8}, "value": -5},
                          "gridOpacity": {"condition": {"test": "datum.value % 50 === 0", "value": 1}, "value": 0},
                          "grid": true, "domain": true, "labelPadding": 16, "title": "Wavenumber / cm⁻¹", "titlePadding": 5}},
           "y": {"field": "A", "type": "quantitative", "scale": {"domain": [-0.0007, 0.05], "nice": false, "zero": false},
                 "axis": {"orient": "left", "values": [0, 0.002, 0.004, 0.006, 0.008, 0.01, 0.012, 0.014, 0.016, 0.018, 0.02, 0.022, 0.024, 0.026, 0.028, 0.03, 0.032, 0.034, 0.036, 0.038, 0.04, 0.042, 0.044, 0.046, 0.048, 0.05],
                          "labelExpr": "abs(datum.value * 100 - round(datum.value * 100)) < 0.001 ? format(datum.value, '~g') : ''",
                          "tickSize": {"condition": {"test": "abs(datum.value * 100 - round(datum.value * 100)) < 0.001", "value": -8}, "value": -5},
                          "grid": false, "domain": true, "labelPadding": 15, "title": "Absorbance", "titlePadding": 18}},
           "color": {"field": "s", "type": "nominal", "scale": {"domain": ["Out-of-Plane", "In-Plane x2"], "range": ["#e00000", "#0000d4"]},
                     "legend": {"title": "\u2002(d)", "orient": "none", "legendX": 14, "legendY": 8, "encode": {"labels": {"update": {"fill": {"signal": "datum.value === 'Out-of-Plane' ? '#e00000' : '#0000d4'"}}}}}}
         }},
        {"mark": {"type": "line", "strokeOpacity": 0},
         "encoding": {
           "x": {"field": "w", "type": "quantitative", "scale": {"domain": [1127, 1400], "reverse": true, "nice": false, "zero": false},
                 "axis": {"orient": "top", "values": [1400, 1390, 1380, 1370, 1360, 1350, 1340, 1330, 1320, 1310, 1300, 1290, 1280, 1270, 1260, 1250, 1240, 1230, 1220, 1210, 1200, 1190, 1180, 1170, 1160, 1150, 1140, 1130], "labels": false, "domain": true, "grid": false, "title": null,
                          "tickSize": {"condition": {"test": "datum.value % 50 === 0", "value": -8}, "value": -5}}},
           "y": {"field": "A", "type": "quantitative", "scale": {"domain": [-0.0007, 0.05], "nice": false, "zero": false}, "axis": null}
         }}
      ],
      "resolve": {"axis": {"x": "independent", "y": "independent"}}
    }
  ],
  "config": {
    "font": "Liberation Sans",
    "view": {"stroke": null},
    "axis": {
      "labelFont": "Liberation Sans", "labelFontWeight": "bold", "labelFontSize": 23, "labelColor": "#000",
      "titleFont": "Liberation Sans", "titleFontWeight": "bold", "titleFontSize": 29, "titleColor": "#000",
      "domainColor": "#000", "domainWidth": 2, "tickColor": "#000", "tickWidth": 2,
      "gridColor": "#444", "gridDash": [1.5, 2.5], "gridWidth": 1.2, "labelFlush": false, "labelOverlap": false
    },
    "legend": {
      "symbolType": "M-2,0H2", "symbolSize": 530, "symbolStrokeWidth": 4,
      "labelFont": "Liberation Sans", "labelFontSize": 24, "labelFontWeight": "bold", "labelOffset": 12, "labelLimit": 0,
      "titleFont": "Liberation Sans", "titleFontSize": 30, "titleFontWeight": "normal", "titleColor": "#222", "titlePadding": 4, "titleLimit": 0,
      "rowPadding": 5, "padding": 0
    }
  }
}
